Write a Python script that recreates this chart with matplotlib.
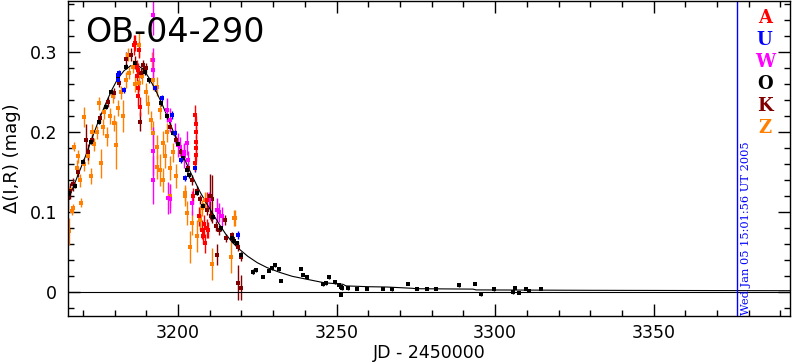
import numpy as np
import matplotlib
matplotlib.use('Agg')
import matplotlib.pyplot as plt

# observatory data: JD-2450000, delta mag, error
A_t = [3186.2, 3186.4, 3187.0, 3187.1, 3187.3, 3187.5, 3187.8, 3187.3, 3188.0,
       3205.4, 3205.6, 3205.6, 3205.6, 3205.6, 3205.8, 3205.5, 3204.8,
       3207.5, 3208.0, 3208.2, 3208.4, 3209.2, 3209.5, 3209.0, 3206.5]
A_y = [0.309, 0.311, 0.282, 0.270, 0.245, 0.255, 0.303, 0.278, 0.232,
       0.222, 0.210, 0.200, 0.188, 0.180, 0.172, 0.162, 0.120,
       0.078, 0.070, 0.085, 0.061, 0.080, 0.078, 0.115, 0.095]
A_e = [0.012, 0.010, 0.008, 0.010, 0.012, 0.010, 0.010, 0.008, 0.012,
       0.012, 0.010, 0.008, 0.008, 0.008, 0.008, 0.010, 0.010,
       0.012, 0.010, 0.012, 0.012, 0.012, 0.010, 0.010, 0.012]

U_t = [3181.2, 3181.2, 3181.5, 3183.1, 3192.7, 3194.8, 3198.0, 3199.0, 3200.8,
       3202.2, 3205.4, 3219.0]
U_y = [0.272, 0.265, 0.274, 0.253, 0.255, 0.243, 0.222, 0.199, 0.165,
       0.1425, 0.155, 0.0716]
U_e = [0.004, 0.004, 0.004, 0.004, 0.004, 0.004, 0.005, 0.004, 0.004,
       0.004, 0.005, 0.005]

W_t = [3192.0, 3192.0, 3192.2, 3192.2, 3192.2, 3196.4, 3196.9, 3197.5, 3197.5,
       3199.0, 3200.1, 3200.6, 3201.9, 3202.0, 3202.7, 3203.3, 3204.3,
       3209.9, 3212.2, 3213.0, 3213.9]
W_y = [0.347, 0.290, 0.278, 0.176, 0.140, 0.228, 0.1175, 0.215, 0.117,
       0.199, 0.184, 0.182, 0.170, 0.175, 0.186, 0.165, 0.111,
       0.115, 0.103, 0.100, 0.095]
W_e = [0.025, 0.015, 0.012, 0.030, 0.030, 0.015, 0.020, 0.015, 0.018,
       0.012, 0.015, 0.012, 0.015, 0.012, 0.015, 0.012, 0.015,
       0.010, 0.015, 0.012, 0.012]

O_t = [3165.6, 3167.5, 3170.0, 3172.5, 3175.0, 3177.3, 3179.0, 3181.0, 3183.6,
       3186.5, 3189.5, 3190.9, 3192.7, 3194.5, 3196.5, 3198.5, 3200.0, 3201.5,
       3202.7, 3203.5, 3205.9, 3208.0, 3211.0, 3213.5, 3216.9, 3217.5, 3218.5,
       3220.0, 3223.8,
       3223.6, 3224.6, 3226.7, 3228.8, 3229.7, 3230.7, 3231.8, 3232.6, 3238.7,
       3239.5, 3240.6, 3245.6, 3246.7, 3247.5, 3249.6, 3250.7, 3251.5, 3251.5,
       3251.6, 3253.5, 3256.6, 3259.7, 3264.6, 3267.5, 3272.6, 3275.5, 3278.6,
       3281.5, 3288.5, 3293.6, 3295.4, 3299.7, 3305.6, 3306.4, 3307.5, 3309.6,
       3310.7, 3314.6]
O_y = [0.124, 0.133, 0.163, 0.188, 0.213, 0.232, 0.250, 0.266, 0.282,
       0.286, 0.275, 0.265, 0.255, 0.236, 0.220, 0.199, 0.185, 0.168,
       0.153, 0.146, 0.124, 0.108, 0.094, 0.080, 0.0675, 0.064, 0.061,
       0.047, 0.026,
       0.0254, 0.0279, 0.0195, 0.027, 0.0304, 0.0337, 0.0287, 0.0145, 0.0295,
       0.022, 0.0187, 0.0104, 0.0112, 0.0187, 0.0129, 0.0095, 0.007, -0.003,
       0.005, 0.0054, 0.0045, 0.0045, 0.0045, 0.004, 0.011, 0.0045, 0.0045,
       0.0045, 0.0087, 0.011, -0.002, 0.004, 0.0004, 0.006, -0.0005, 0.0045,
       0.002, 0.0045]
O_e = [0.003] * 29 + [0.002] * 38

K_t = [3165.3, 3165.9, 3167.0, 3168.5, 3171.0, 3171.7, 3173.0, 3175.5, 3177.8,
       3179.9, 3181.5, 3183.6, 3185.2, 3186.5, 3188.0, 3188.3, 3188.8, 3190.0,
       3197.5, 3199.5, 3201.0, 3203.0, 3204.5, 3206.0, 3207.0, 3209.0, 3210.1,
       3210.8, 3210.5, 3212.0, 3212.2, 3213.0, 3214.8, 3215.0, 3216.9, 3217.2,
       3219.0, 3219.9, 3219.0, 3220.0]
K_y = [0.118, 0.127, 0.135, 0.150, 0.190, 0.175, 0.190, 0.218, 0.238,
       0.249, 0.262, 0.292, 0.297, 0.287, 0.213, 0.274, 0.284, 0.280,
       0.207, 0.190, 0.175, 0.155, 0.140, 0.127, 0.116, 0.103, 0.120,
       0.116, 0.095, 0.083, 0.047, 0.078, 0.090, 0.068, 0.0716, 0.066,
       0.057, 0.0445, 0.012, 0.006]
K_e = [0.015, 0.010, 0.008, 0.006, 0.020, 0.010, 0.006, 0.006, 0.006,
       0.006, 0.005, 0.008, 0.008, 0.008, 0.012, 0.006, 0.006, 0.006,
       0.005, 0.005, 0.005, 0.005, 0.006, 0.006, 0.006, 0.006, 0.028,
       0.030, 0.006, 0.006, 0.013, 0.006, 0.006, 0.005, 0.004, 0.004,
       0.006, 0.006, 0.022, 0.016]

Z_t = [3165.5, 3166.5, 3166.8, 3166.0, 3167.3, 3168.0, 3168.3, 3169.4, 3169.0,
       3170.3, 3170.5, 3171.5, 3172.5, 3173.0, 3173.5, 3174.5, 3175.2, 3175.7,
       3176.2, 3176.8, 3177.5, 3178.5, 3179.4, 3179.9, 3180.4, 3181.0, 3182.0,
       3182.6, 3183.5, 3184.1, 3184.6, 3185.7, 3186.3, 3187.8, 3187.8, 3188.5,
       3189.9, 3190.5, 3191.4, 3191.7, 3192.0, 3192.2, 3193.3, 3193.3, 3193.3,
       3194.3, 3194.3, 3195.4, 3195.4, 3196.0, 3196.5, 3197.5, 3197.5, 3198.5,
       3199.5, 3202.2, 3202.2, 3202.7, 3203.8, 3204.3, 3205.9, 3206.9, 3206.9,
       3207.5, 3208.5, 3210.6, 3216.6, 3217.8, 3218.0]
Z_y = [0.076, 0.101, 0.105, 0.128, 0.182, 0.155, 0.170, 0.112, 0.140,
       0.219, 0.160, 0.170, 0.145, 0.200, 0.185, 0.200, 0.236, 0.161,
       0.207, 0.225, 0.195, 0.220, 0.245, 0.211, 0.184, 0.230, 0.250,
       0.220, 0.265, 0.297, 0.274, 0.282, 0.260, 0.309, 0.262, 0.270,
       0.250, 0.235, 0.215, 0.290, 0.265, 0.199, 0.257, 0.182, 0.157,
       0.228, 0.153, 0.186, 0.140, 0.170, 0.200, 0.155, 0.120, 0.175,
       0.145, 0.124, 0.120, 0.099, 0.057, 0.086, 0.070, 0.0945, 0.090,
       0.105, 0.115, 0.035, 0.044, 0.093, 0.0925]
Z_e = [0.017, 0.005, 0.005, 0.006, 0.006, 0.010, 0.008, 0.006, 0.008,
       0.013, 0.008, 0.010, 0.010, 0.010, 0.008, 0.008, 0.008, 0.018,
       0.010, 0.008, 0.012, 0.010, 0.008, 0.010, 0.030, 0.010, 0.008,
       0.020, 0.010, 0.008, 0.008, 0.008, 0.010, 0.015, 0.010, 0.010,
       0.012, 0.012, 0.012, 0.010, 0.012, 0.015, 0.012, 0.015, 0.015,
       0.012, 0.020, 0.015, 0.015, 0.015, 0.012, 0.015, 0.015, 0.012,
       0.015, 0.010, 0.012, 0.015, 0.020, 0.015, 0.020, 0.015, 0.012,
       0.010, 0.010, 0.020, 0.020, 0.010, 0.010]

# model curve
model_t = [3165, 3167, 3169, 3171, 3173, 3175, 3177, 3179, 3181, 3183, 3185,
           3187, 3189, 3191, 3193, 3195, 3197, 3199, 3201, 3203, 3205, 3207,
           3209, 3211, 3213, 3215, 3217, 3219, 3222, 3225, 3228, 3232, 3236,
           3241, 3246, 3252, 3253, 3260, 3266, 3274, 3275, 3293, 3294, 3330,
           3393]
model_y = [0.112, 0.132, 0.152, 0.172, 0.194, 0.215, 0.234, 0.252, 0.267,
           0.277, 0.283, 0.284, 0.279, 0.267, 0.252, 0.235, 0.216, 0.196,
           0.176, 0.158, 0.141, 0.125, 0.111, 0.098, 0.085, 0.073, 0.063,
           0.055, 0.045, 0.037, 0.031, 0.025, 0.020, 0.016, 0.012, 0.010,
           0.008, 0.007, 0.0066, 0.005, 0.0045, 0.004, 0.003, 0.0025, 0.002]

names = ['A', 'U', 'W', 'O', 'K', 'Z']
colors = {'A': '#ff0000', 'U': '#0000ff', 'W': '#ff00ff',
          'O': '#000000', 'K': '#800000', 'Z': '#ff8000'}
series = {'A': (A_t, A_y, A_e), 'U': (U_t, U_y, U_e), 'W': (W_t, W_y, W_e),
          'O': (O_t, O_y, O_e), 'K': (K_t, K_y, K_e), 'Z': (Z_t, Z_y, Z_e)}

date_jd = 3376.3
date_text = 'Wed Jan 05 15:01:56 UT 2005'

fig = plt.figure(figsize=(7.92, 3.62), dpi=100)
ax = fig.add_axes([68/792, 46/362, 722/792, 315/362])

for key in ['Z', 'K', 'W', 'O', 'U', 'A']:
    t, y, e = series[key]
    ax.errorbar(t, y, yerr=e, fmt='s', color=colors[key], ms=3.3, mew=0,
                elinewidth=1, capsize=1.5, capthick=1)

ax.plot(model_t, model_y, color='black', lw=0.8)
ax.axhline(0, color='black', lw=0.8)
ax.axvline(date_jd, color='blue', lw=1)
ax.text(date_jd + 1.2, -0.0285, date_text, rotation=90, color='blue',
        fontsize=8.2, family='DejaVu Serif', ha='left', va='bottom')

for i, key in enumerate(names):
    ax.text(0.965, 0.946 - i*0.0697, key, transform=ax.transAxes,
            color=colors[key], fontsize=13, family='DejaVu Serif',
            fontweight='bold', ha='center', va='center')

ax.text(0.024, 0.9, 'OB-04-290', transform=ax.transAxes, fontsize=24,
        ha='left', va='center')

ax.set_xlim(3165.3, 3393)
ax.set_ylim(-0.0296, 0.364)
ax.set_xticks([3200, 3250, 3300, 3350])
ax.set_xticks(np.arange(3170, 3400, 10), minor=True)
ax.set_yticks([0, 0.1, 0.2, 0.3])
ax.set_yticks(np.arange(-0.02, 0.37, 0.02), minor=True)
ax.set_yticklabels(['0', '0.1', '0.2', '0.3'])
ax.tick_params(which='both', direction='in', top=True, right=True,
               labelsize=12.5, width=1)
ax.tick_params(which='major', length=8.5)
ax.tick_params(which='minor', length=4.3)
ax.tick_params(axis='x', which='major', pad=6)
ax.tick_params(axis='y', which='major', pad=8)
for s in ax.spines.values():
    s.set_linewidth(1)

ax.set_xlabel('JD - 2450000', fontsize=12.5, labelpad=1)
ax.set_ylabel('\u0394(I,R) (mag)', fontsize=13, labelpad=6)

fig.savefig('out.png', dpi=100)
